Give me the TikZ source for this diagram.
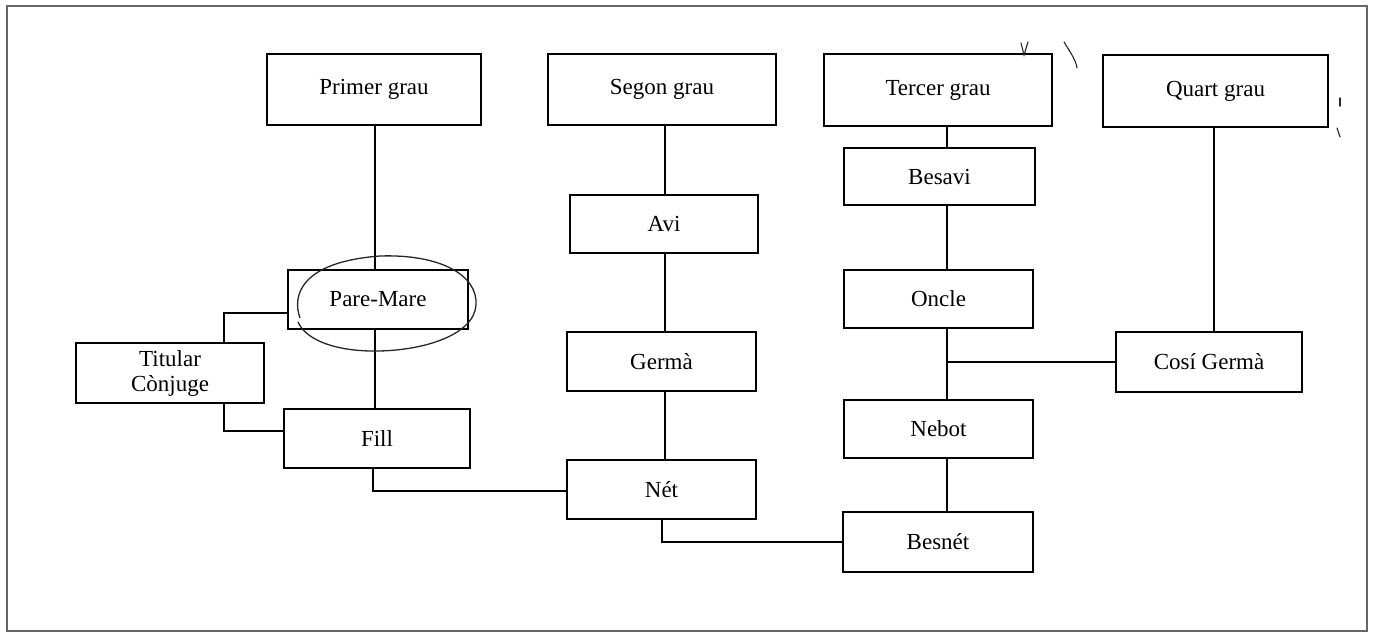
\documentclass[tikz,border=0pt]{standalone}
\usepackage{fontspec}
\setmainfont{Liberation Serif}
\begin{document}
\begin{tikzpicture}[x=1pt,y=-1pt,
  box/.style={draw=black, line width=1.8pt, rectangle, inner sep=0pt, font=\fontsize{23}{25}\selectfont, align=center},
  link/.style={draw=black, line width=1.8pt},
  scribble/.style={draw=black!85, line width=1.1pt, line cap=round}]
\useasboundingbox (0,0) rectangle (1373,632);
\draw[black!60, line width=1.4pt] (7,6) rectangle (1367,631);

% degree headers
\node[box, minimum width=214pt, minimum height=71pt] (g1) at (374,89.5) {Primer grau};
\node[box, minimum width=228pt, minimum height=71pt] (g2) at (662,89.5) {Segon grau};
\node[box, minimum width=228pt, minimum height=72pt] (g3) at (938,90) {Tercer grau};
\node[box, minimum width=225pt, minimum height=72pt] (g4) at (1215.5,91) {Quart grau};

% first column
\node[box, minimum width=180pt, minimum height=59pt] (pm) at (378,299.5) {Pare-Mare};
\node[box, minimum width=188pt, minimum height=60pt] (tc) at (170,373) {Titular\\Cònjuge};
\node[box, minimum width=186pt, minimum height=59pt] (fill) at (377,438.5) {Fill};

% second column
\node[box, minimum width=188pt, minimum height=58pt] (avi) at (664,224) {Avi};
\node[box, minimum width=189pt, minimum height=59pt] (germa) at (661.5,361.5) {Germà};
\node[box, minimum width=189pt, minimum height=59pt] (net) at (661.5,489.5) {Nét};

% third column
\node[box, minimum width=191pt, minimum height=57pt] (besavi) at (939.5,176.5) {Besavi};
\node[box, minimum width=189pt, minimum height=58pt] (oncle) at (938.5,299) {Oncle};
\node[box, minimum width=189pt, minimum height=58pt] (nebot) at (938.5,429) {Nebot};
\node[box, minimum width=190pt, minimum height=60pt] (besnet) at (938,542) {Besnét};

% fourth column
\node[box, minimum width=186pt, minimum height=60pt] (cosi) at (1209,362) {Cosí Germà};

% column line coordinates
\coordinate (c1) at (375,0);
\coordinate (c2) at (665,0);
\coordinate (c3) at (947,0);
\coordinate (c4) at (1214,0);

% first column connectors
\draw[link] (g1.south -| c1) -- (pm.north -| c1);
\draw[link] (pm.south -| c1) -- (fill.north -| c1);
\draw[link] ([yshift=-13.5pt]pm.west) -| ([xshift=54pt]tc.north);
\draw[link] ([xshift=54pt]tc.south) |- ([yshift=7.5pt]fill.west);
\draw[link] ([xshift=-4pt]fill.south) |- ([yshift=-1.5pt]net.west);

% second column connectors
\draw[link] (g2.south -| c2) -- (avi.north -| c2);
\draw[link] (avi.south -| c2) -- (germa.north -| c2);
\draw[link] (germa.south -| c2) -- (net.north -| c2);
\draw[link] ([xshift=0.5pt]net.south) |- (besnet.west);

% third column connectors
\draw[link] (g3.south -| c3) -- (besavi.north -| c3);
\draw[link] (besavi.south -| c3) -- (oncle.north -| c3);
\draw[link] (oncle.south -| c3) -- (nebot.north -| c3);
\draw[link] (nebot.south -| c3) -- (besnet.north -| c3);
\draw[link] (cosi.west) -- (cosi.west -| c3);

% fourth column connector
\draw[link] (g4.south -| c4) -- (cosi.north -| c4);

% hand-drawn ellipse round Pare-Mare
\draw[black!85, line width=1.3pt]
  (300,318) .. controls (292,296) and (300,262) .. (380,256)
  .. controls (440,254) and (478,275) .. (476,305)
  .. controls (474,336) and (420,352) .. (370,351)
  .. controls (330,350) and (305,338) .. (298,322);

% stray pen marks
\draw[scribble] (1021,43) -- (1024,55) -- (1028,42);
\draw[scribble] (1064,42) .. controls (1070,52) and (1076,60) .. (1077,68);
\draw[scribble] (1340,98) -- (1340,106);
\draw[scribble] (1337,128) -- (1340,137);
\end{tikzpicture}
\end{document}
